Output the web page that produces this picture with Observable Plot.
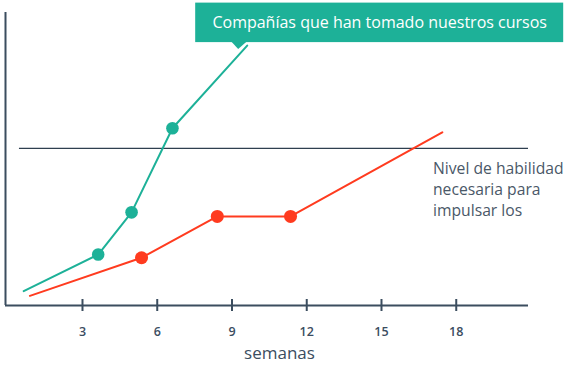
<!DOCTYPE html>
<html>
<head>
<meta charset="utf-8">
<script src="https://cdn.jsdelivr.net/npm/d3@7"></script>
<script src="https://cdn.jsdelivr.net/npm/@observablehq/plot@0.6"></script>
<style>
  html, body { margin: 0; padding: 0; background: #fff; }
  body { width: 570px; height: 380px; overflow: hidden; font-family: "Open Sans", sans-serif; }
</style>
</head>
<body>
<div id="chart"></div>
<script>
// ---- data ----
const greenWeeks  = [0.64, 3.63, 4.97, 6.61, 9.61];
const greenValues = [4.9, 17.4, 31.8, 60.5, 88.7];
const greenDotIdx = [1, 2, 3];

const redWeeks  = [0.89, 5.37, 8.41, 11.35, 17.44];
const redValues = [3.3, 16.3, 30.4, 30.4, 59.1];
const redDotIdx = [1, 2, 3];

const thresholdValue = 53.6;
const thresholdWeeks = [0.47, 20.9];

const xTicks = [3, 6, 9, 12, 15, 18];
const xDomain = [-0.09, 20.9];
const yDomain = [0, 100];

const calloutText = "Compañías que han tomado nuestros cursos";
const thresholdLabel = "Nivel de habilidad\nnecesaria para\nimpulsar los";
const xLabel = "semanas";

// ---- build tables ----
const green = greenWeeks.map((w, i) => ({week: w, value: greenValues[i]}));
const red = redWeeks.map((w, i) => ({week: w, value: redValues[i]}));
const greenDots = greenDotIdx.map(i => green[i]);
const redDots = redDotIdx.map(i => red[i]);
const calloutPoint = green[green.length - 1];

const teal = "#1db198";
const orange = "#ff3b1f";
const dark = "#3b4d5f";

const chart = Plot.plot({
  width: 570,
  height: 380,
  marginLeft: 5,
  marginRight: 42,
  marginTop: 12,
  marginBottom: 75,
  x: {domain: xDomain, axis: null},
  y: {domain: yDomain, axis: null},
  style: {fontFamily: "'Open Sans', sans-serif", background: "#fff"},
  marks: [
    // axes
    Plot.ruleX([xDomain[0]], {y1: yDomain[0], y2: yDomain[1], stroke: dark, strokeWidth: 2}),
    Plot.ruleY([0], {x1: xDomain[0], x2: xDomain[1], stroke: dark, strokeWidth: 2}),
    Plot.ruleX(xTicks, {x: d => d, y1: 0, y2: 0, insetTop: -6, insetBottom: -6, stroke: dark, strokeWidth: 2}),
    Plot.text(xTicks, {x: d => d, frameAnchor: "bottom", dy: 26, lineAnchor: "middle", text: d => String(d),
      fill: dark, fontSize: 12.5, fontWeight: 600}),
    Plot.text([xLabel], {frameAnchor: "bottom", dx: 12.5, dy: 48, lineAnchor: "middle", text: d => d,
      fill: dark, fontSize: 17}),
    // threshold
    Plot.ruleY([thresholdValue], {x1: thresholdWeeks[0], x2: thresholdWeeks[1], stroke: "#2e3f4f", strokeWidth: 1.3}),
    Plot.text([thresholdLabel], {x: xDomain[1], y: thresholdValue, dx: -95.5, dy: 40, textAnchor: "start",
      lineAnchor: "middle", lineHeight: 1.31, text: d => d, fill: "#4a5868", fontSize: 15.7}),
    // series
    Plot.line(red, {x: "week", y: "value", stroke: orange, strokeWidth: 2}),
    Plot.dot(redDots, {x: "week", y: "value", r: 6.5, fill: orange}),
    Plot.line(green, {x: "week", y: "value", stroke: teal, strokeWidth: 2}),
    Plot.dot(greenDots, {x: "week", y: "value", r: 6.3, fill: teal}),
    // callout
    Plot.dot([calloutPoint], {
      x: "week", y: "value",
      render(index, scales) {
        const px = scales.x(calloutPoint.week);
        const py = scales.y(calloutPoint.value);
        const g = d3.create("svg:g");
        g.append("rect")
          .attr("x", px - 51.5).attr("y", py - 42.5)
          .attr("width", 368).attr("height", 39.5)
          .attr("fill", teal);
        g.append("path")
          .attr("d", `M${px - 15},${py - 3.2}L${px - 0.5},${py - 3.2}L${px - 8.5},${py + 3.8}Z`)
          .attr("fill", teal);
        g.append("text")
          .attr("x", px + 133).attr("y", py - 23)
          .attr("text-anchor", "middle").attr("dominant-baseline", "central")
          .attr("fill", "#fff").attr("font-size", 16)
          .attr("font-family", "'Open Sans', sans-serif")
          .text(calloutText);
        return g.node();
      }
    })
  ]
});
document.getElementById("chart").append(chart);
</script>
</body>
</html>
